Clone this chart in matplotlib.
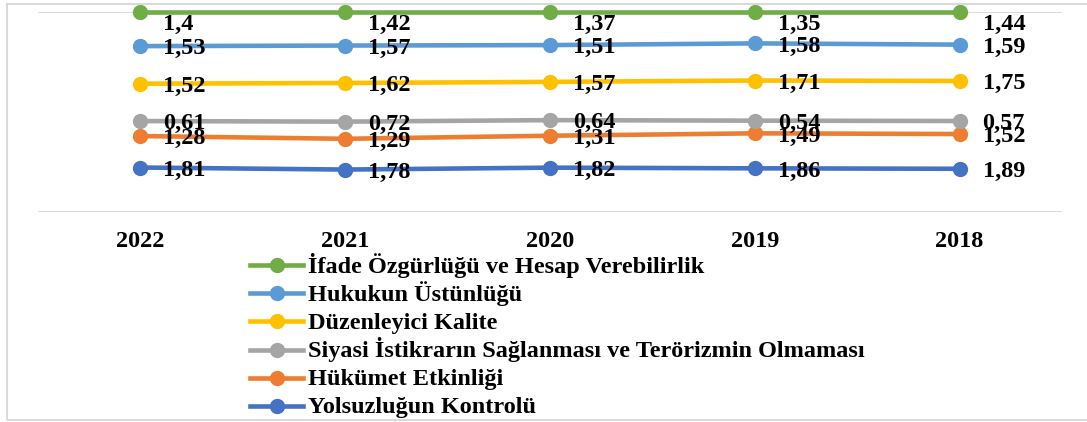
import matplotlib
matplotlib.use("Agg")
import matplotlib.pyplot as plt
import numpy as np
from matplotlib.patches import Rectangle
from matplotlib.lines import Line2D

years = ["2022", "2021", "2020", "2019", "2018"]

# series listed bottom to top (stacking order)
series_names = [
    "Yolsuzluğun Kontrolü",
    "Hükümet Etkinliği",
    "Siyasi İstikrarın Sağlanması ve Terörizmin Olmaması",
    "Düzenleyici Kalite",
    "Hukukun Üstünlüğü",
    "İfade Özgürlüğü ve Hesap Verebilirlik",
]
yolsuzluk = [1.81, 1.78, 1.82, 1.86, 1.89]
hukumet = [1.28, 1.29, 1.31, 1.49, 1.52]
siyasi = [0.61, 0.72, 0.64, 0.54, 0.57]
duzenleyici = [1.52, 1.62, 1.57, 1.71, 1.75]
hukuk = [1.53, 1.57, 1.51, 1.58, 1.59]
ifade = [1.4, 1.42, 1.37, 1.35, 1.44]

values = [yolsuzluk, hukumet, siyasi, duzenleyici, hukuk, ifade]
colors = ["#4472C4", "#ED7D31", "#A5A5A5", "#FFC000", "#5B9BD5", "#70AD47"]

W, H = 1087, 422
fig = plt.figure(figsize=(W / 100, H / 100), dpi=100)
plt.rcParams["font.family"] = ["Liberation Serif", "DejaVu Serif"]

ax = fig.add_axes([38 / W, (H - 212) / H, 1024 / W, 200.3 / H])

data = np.array(values)
cum = np.cumsum(data, axis=0)
pct = cum / cum[-1]
x = np.arange(len(years))

LW, MS = 3.3, 10
for i in range(len(values)):
    ax.plot(x, pct[i], color=colors[i], lw=LW, marker="o", ms=MS,
            clip_on=False, zorder=3 + i * 0.1, solid_capstyle="butt")
    for j, v in enumerate(values[i]):
        dy = -2 if i < len(values) - 1 else -9.5
        ax.annotate(f"{v:g}".replace(".", ","), (x[j], pct[i][j]),
                    xytext=(16.5, dy), textcoords="offset points",
                    ha="left", va="center", fontsize=17.5, fontweight="bold",
                    color="black", zorder=10, annotation_clip=False)

ax.set_xlim(-0.5, len(years) - 0.5)
ax.set_ylim(0, 1)
ax.set_xticks(x)
ax.set_xticklabels(years, fontsize=17.5, fontweight="bold")
ax.tick_params(axis="x", length=0, pad=13.5)
ax.set_yticks([0, 1])
ax.tick_params(axis="y", length=0, labelleft=False)
ax.grid(axis="y", color="#D9D9D9", lw=1.3)
ax.set_axisbelow(True)
for s in ax.spines.values():
    s.set_visible(False)

# manual legend (top to bottom: reverse stacking order), pixel layout
row0, step = 265, 28.2
for k, i in enumerate(range(len(values) - 1, -1, -1)):
    ry = row0 + k * step
    yf = (H - ry) / H
    fig.lines.append(Line2D([250 / W, 303 / W], [yf, yf], color=colors[i], lw=LW,
                            transform=fig.transFigure))
    fig.lines.append(Line2D([276.5 / W], [yf], color=colors[i], marker="o", ms=MS,
                            transform=fig.transFigure))
    fig.text(308 / W, (H - ry - 7.5) / H, series_names[i], fontsize=17.5,
             fontweight="bold", ha="left", va="baseline")

fig.patches.append(Rectangle((7 / W, 2 / H), 1.2, (420 - 4) / H,
                             transform=fig.transFigure, fill=False,
                             edgecolor="#D9D9D9", lw=1.5))

fig.savefig("out.png", dpi=100)
